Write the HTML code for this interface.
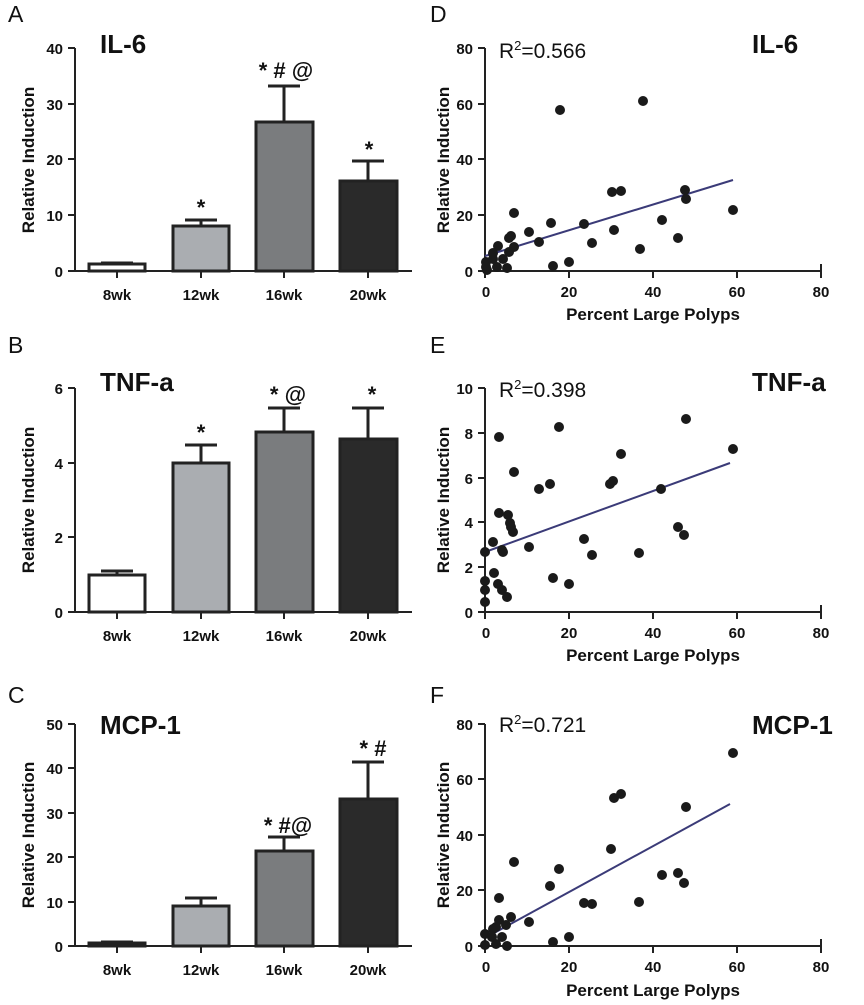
<!DOCTYPE html>
<html><head><meta charset="utf-8"><style>
html,body{margin:0;padding:0;background:#fff}
svg{display:block;font-family:"Liberation Sans",Arial,sans-serif}
.t{font-size:15px;font-weight:bold;fill:#111}
.ax{stroke:#222;stroke-width:2;fill:none}
.yl{font-size:17px;font-weight:bold;fill:#111}
.pl{font-size:23px;fill:#111}
.ti{font-size:26px;font-weight:bold;fill:#111}
.st{font-size:22px;font-weight:bold;fill:#111}
.r2{font-size:21px;fill:#111}
.bar{stroke:#222;stroke-width:3}
.eb{stroke:#222;stroke-width:3;fill:none}
circle{fill:#1a1a1a}
.fit{stroke:#3b3b78;stroke-width:2}
</style></head><body>
<svg width="864" height="1005" viewBox="0 0 864 1005">
<!-- Panel A -->
<text class="pl" x="8" y="22">A</text>
<text class="ti" x="100" y="53">IL-6</text>
<text class="yl" transform="translate(34,160) rotate(-90)" text-anchor="middle">Relative  Induction</text>
<path class="ax" d="M75,48V271H412M68,48H75M68,104H75M68,159H75M68,215H75M68,271H75M117,271v7M201,271v7M284,271v7M368,271v7"/>
<g class="t" text-anchor="end"><text x="63" y="54">40</text><text x="63" y="110">30</text><text x="63" y="165">20</text><text x="63" y="221">10</text><text x="63" y="277">0</text></g>
<g class="t" text-anchor="middle"><text x="117" y="300">8wk</text><text x="201" y="300">12wk</text><text x="284" y="300">16wk</text><text x="368" y="300">20wk</text></g>
<path class="eb" d="M117,264V263M101,263H133M201,226V220M185,220H217M284,122V86M268,86H300M368,181V161M352,161H384"/>
<rect class="bar" x="89" y="264" width="56" height="7" fill="#fff"/>
<rect class="bar" x="173" y="226" width="56" height="45" fill="#aaadb1"/>
<rect class="bar" x="256" y="122" width="57" height="149" fill="#7a7c7e"/>
<rect class="bar" x="340" y="181" width="57" height="90" fill="#2a2a2a"/>
<g class="st" text-anchor="middle"><text x="201" y="215">*</text><text x="286" y="78">* # @</text><text x="369" y="157">*</text></g>

<!-- Panel D -->
<text class="pl" x="430" y="22">D</text>
<text class="ti" x="752" y="53">IL-6</text>
<text class="r2" x="499" y="58">R<tspan dy="-8" font-size="13">2</tspan><tspan dy="8">=0.566</tspan></text>
<text class="yl" transform="translate(449,160) rotate(-90)" text-anchor="middle">Relative  Induction</text>
<path class="ax" d="M485,48V271H821M478,48H485M478,104H485M478,159H485M478,215H485M478,271H485M485,271v7M569,271v7M653,271v7M737,271v7M821,271v-7v14"/>
<g class="t" text-anchor="end"><text x="473" y="54">80</text><text x="473" y="110">60</text><text x="473" y="165">40</text><text x="473" y="221">20</text><text x="473" y="277">0</text></g>
<g class="t" text-anchor="middle"><text x="486" y="297">0</text><text x="569" y="297">20</text><text x="653" y="297">40</text><text x="737" y="297">60</text><text x="821" y="297">80</text></g>
<text class="yl" x="653" y="320" text-anchor="middle">Percent Large Polyps</text>
<line class="fit" x1="485" y1="256" x2="733" y2="180"/>
<g>
<circle cx="560" cy="110" r="5"/><circle cx="643" cy="101" r="5"/><circle cx="612" cy="192" r="5"/><circle cx="621" cy="191" r="5"/><circle cx="685" cy="190" r="5"/><circle cx="686" cy="199" r="5"/><circle cx="733" cy="210" r="5"/><circle cx="514" cy="213" r="5"/><circle cx="551" cy="223" r="5"/><circle cx="584" cy="224" r="5"/><circle cx="529" cy="232" r="5"/><circle cx="662" cy="220" r="5"/><circle cx="614" cy="230" r="5"/><circle cx="539" cy="242" r="5"/><circle cx="592" cy="243" r="5"/><circle cx="678" cy="238" r="5"/><circle cx="640" cy="249" r="5"/><circle cx="511" cy="236" r="5"/><circle cx="509" cy="238" r="5"/><circle cx="498" cy="246" r="5"/><circle cx="514" cy="247" r="5"/><circle cx="509" cy="252" r="5"/><circle cx="503" cy="259" r="5"/><circle cx="493" cy="259" r="5"/><circle cx="486" cy="262" r="5"/><circle cx="486" cy="267" r="5"/><circle cx="497" cy="267" r="5"/><circle cx="507" cy="268" r="5"/><circle cx="553" cy="266" r="5"/><circle cx="569" cy="262" r="5"/><circle cx="493" cy="253" r="5"/><circle cx="487" cy="270" r="5"/>
</g>

<!-- Panel B -->
<text class="pl" x="8" y="353">B</text>
<text class="ti" x="100" y="391">TNF-a</text>
<text class="yl" transform="translate(34,500) rotate(-90)" text-anchor="middle">Relative  Induction</text>
<path class="ax" d="M75,388V612H412M68,388H75M68,463H75M68,537H75M68,612H75M117,612v7M201,612v7M284,612v7M368,612v7"/>
<g class="t" text-anchor="end"><text x="63" y="394">6</text><text x="63" y="469">4</text><text x="63" y="543">2</text><text x="63" y="618">0</text></g>
<g class="t" text-anchor="middle"><text x="117" y="641">8wk</text><text x="201" y="641">12wk</text><text x="284" y="641">16wk</text><text x="368" y="641">20wk</text></g>
<path class="eb" d="M117,575V571M101,571H133M201,463V445M185,445H217M284,432V408M268,408H300M368,439V408M352,408H384"/>
<rect class="bar" x="89" y="575" width="56" height="37" fill="#fff"/>
<rect class="bar" x="173" y="463" width="56" height="149" fill="#aaadb1"/>
<rect class="bar" x="256" y="432" width="57" height="180" fill="#7a7c7e"/>
<rect class="bar" x="340" y="439" width="57" height="173" fill="#2a2a2a"/>
<g class="st" text-anchor="middle"><text x="201" y="440">*</text><text x="288" y="402">* @</text><text x="372" y="402">*</text></g>

<!-- Panel E -->
<text class="pl" x="430" y="353">E</text>
<text class="ti" x="752" y="391">TNF-a</text>
<text class="r2" x="499" y="397">R<tspan dy="-8" font-size="13">2</tspan><tspan dy="8">=0.398</tspan></text>
<text class="yl" transform="translate(449,500) rotate(-90)" text-anchor="middle">Relative  Induction</text>
<path class="ax" d="M485,388V612H821M478,388H485M478,433H485M478,478H485M478,522H485M478,567H485M478,612H485M485,612v7M569,612v7M653,612v7M737,612v7M821,612v-7v14"/>
<g class="t" text-anchor="end"><text x="473" y="394">10</text><text x="473" y="439">8</text><text x="473" y="484">6</text><text x="473" y="528">4</text><text x="473" y="573">2</text><text x="473" y="618">0</text></g>
<g class="t" text-anchor="middle"><text x="486" y="638">0</text><text x="569" y="638">20</text><text x="653" y="638">40</text><text x="737" y="638">60</text><text x="821" y="638">80</text></g>
<text class="yl" x="653" y="661" text-anchor="middle">Percent Large Polyps</text>
<line class="fit" x1="485" y1="552" x2="730" y2="463"/>
<g>
<circle cx="499" cy="437" r="5"/><circle cx="559" cy="427" r="5"/><circle cx="686" cy="419" r="5"/><circle cx="733" cy="449" r="5"/><circle cx="621" cy="454" r="5"/><circle cx="613" cy="481" r="5"/><circle cx="610" cy="484" r="5"/><circle cx="539" cy="489" r="5"/><circle cx="550" cy="484" r="5"/><circle cx="661" cy="489" r="5"/><circle cx="514" cy="472" r="5"/><circle cx="499" cy="513" r="5"/><circle cx="508" cy="515" r="5"/><circle cx="510" cy="523" r="5"/><circle cx="511" cy="527" r="5"/><circle cx="513" cy="532" r="5"/><circle cx="493" cy="542" r="5"/><circle cx="529" cy="547" r="5"/><circle cx="485" cy="552" r="5"/><circle cx="503" cy="552" r="5"/><circle cx="584" cy="539" r="5"/><circle cx="592" cy="555" r="5"/><circle cx="639" cy="553" r="5"/><circle cx="678" cy="527" r="5"/><circle cx="684" cy="535" r="5"/><circle cx="494" cy="573" r="5"/><circle cx="485" cy="581" r="5"/><circle cx="485" cy="590" r="5"/><circle cx="485" cy="602" r="5"/><circle cx="498" cy="584" r="5"/><circle cx="502" cy="590" r="5"/><circle cx="507" cy="597" r="5"/><circle cx="553" cy="578" r="5"/><circle cx="569" cy="584" r="5"/><circle cx="502" cy="550" r="5"/>
</g>

<!-- Panel C -->
<text class="pl" x="8" y="703">C</text>
<text class="ti" x="100" y="734">MCP-1</text>
<text class="yl" transform="translate(34,835) rotate(-90)" text-anchor="middle">Relative  Induction</text>
<path class="ax" d="M75,724V946H412M68,724H75M68,768H75M68,813H75M68,857H75M68,902H75M68,946H75M117,946v7M201,946v7M284,946v7M368,946v7"/>
<g class="t" text-anchor="end"><text x="63" y="730">50</text><text x="63" y="774">40</text><text x="63" y="819">30</text><text x="63" y="863">20</text><text x="63" y="908">10</text><text x="63" y="952">0</text></g>
<g class="t" text-anchor="middle"><text x="117" y="975">8wk</text><text x="201" y="975">12wk</text><text x="284" y="975">16wk</text><text x="368" y="975">20wk</text></g>
<path class="eb" d="M117,943V942M101,942H133M201,906V898M185,898H217M284,851V837M268,837H300M368,799V762M352,762H384"/>
<rect class="bar" x="89" y="943" width="56" height="3" fill="#fff"/>
<rect class="bar" x="173" y="906" width="56" height="40" fill="#aaadb1"/>
<rect class="bar" x="256" y="851" width="57" height="95" fill="#7a7c7e"/>
<rect class="bar" x="340" y="799" width="57" height="147" fill="#2a2a2a"/>
<g class="st" text-anchor="middle"><text x="288" y="833">* #@</text><text x="373" y="756">* #</text></g>

<!-- Panel F -->
<text class="pl" x="430" y="703">F</text>
<text class="ti" x="752" y="734">MCP-1</text>
<text class="r2" x="499" y="732">R<tspan dy="-8" font-size="13">2</tspan><tspan dy="8">=0.721</tspan></text>
<text class="yl" transform="translate(449,835) rotate(-90)" text-anchor="middle">Relative  Induction</text>
<path class="ax" d="M485,724V946H821M478,724H485M478,779H485M478,835H485M478,890H485M478,946H485M485,946v7M569,946v7M653,946v7M737,946v7M821,946v-7v14"/>
<g class="t" text-anchor="end"><text x="473" y="730">80</text><text x="473" y="785">60</text><text x="473" y="841">40</text><text x="473" y="896">20</text><text x="473" y="952">0</text></g>
<g class="t" text-anchor="middle"><text x="486" y="972">0</text><text x="569" y="972">20</text><text x="653" y="972">40</text><text x="737" y="972">60</text><text x="821" y="972">80</text></g>
<text class="yl" x="653" y="996" text-anchor="middle">Percent Large Polyps</text>
<line class="fit" x1="485" y1="938" x2="730" y2="804"/>
<g>
<circle cx="733" cy="753" r="5"/><circle cx="614" cy="798" r="5"/><circle cx="621" cy="794" r="5"/><circle cx="686" cy="807" r="5"/><circle cx="611" cy="849" r="5"/><circle cx="559" cy="869" r="5"/><circle cx="514" cy="862" r="5"/><circle cx="550" cy="886" r="5"/><circle cx="499" cy="898" r="5"/><circle cx="584" cy="903" r="5"/><circle cx="592" cy="904" r="5"/><circle cx="639" cy="902" r="5"/><circle cx="662" cy="875" r="5"/><circle cx="678" cy="873" r="5"/><circle cx="684" cy="883" r="5"/><circle cx="529" cy="922" r="5"/><circle cx="511" cy="917" r="5"/><circle cx="499" cy="920" r="5"/><circle cx="496" cy="927" r="5"/><circle cx="506" cy="925" r="5"/><circle cx="493" cy="929" r="5"/><circle cx="485" cy="934" r="5"/><circle cx="492" cy="937" r="5"/><circle cx="496" cy="944" r="5"/><circle cx="485" cy="945" r="5"/><circle cx="507" cy="946" r="5"/><circle cx="553" cy="942" r="5"/><circle cx="569" cy="937" r="5"/><circle cx="502" cy="937" r="5"/>
</g>
</svg>
</body></html>
